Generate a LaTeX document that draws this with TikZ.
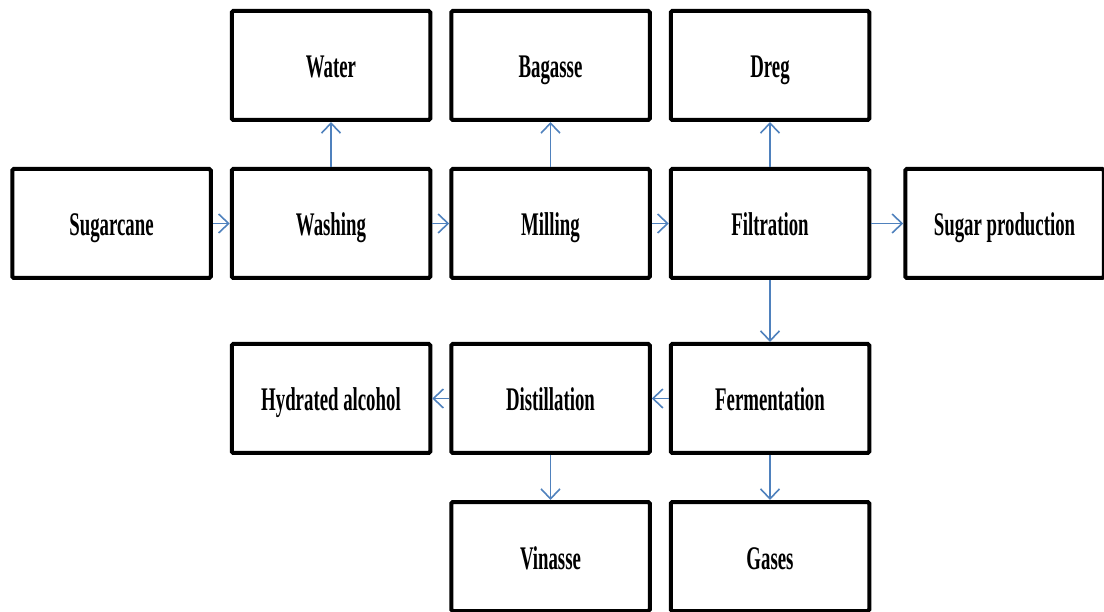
\documentclass[tikz,border=0pt]{standalone}
\usepackage{fontspec}
\newfontfamily\stagefont{Liberation Serif}[FakeStretch=0.57]
\usetikzlibrary{arrows.meta,positioning}
\definecolor{flowblue}{RGB}{79,129,189}

\tikzset{
    stage/.style={draw=black, line width=4pt, rounded corners=1.5pt,
        minimum width=198.5pt, minimum height=109pt, inner sep=0pt,
        text height=25pt, text depth=0pt,
        font=\stagefont\bfseries\fontsize{33}{33}\selectfont},
    flow/.style={draw=flowblue, line width=1.6pt},
    >={Straight Barb[length=10pt,width=19pt]}
}

\begin{document}
\begin{tikzpicture}[x=1pt, y=1pt]
    \useasboundingbox (0,0) rectangle (1104,-612);
    % main line
    \node(sugarcane) [stage] at (111.5,-223.5)            {Sugarcane};
    \node(washing)   [stage, right=17pt of sugarcane]     {Washing};
    \node(milling)   [stage, right=17pt of washing]       {Milling};
    \node(filtration)[stage, right=17pt of milling]       {Filtration};
    \node(sugar)     [stage, right=32pt of filtration]    {Sugar production};

    % by-products above
    \node(water)     [stage, above=45pt of washing]       {Water};
    \node(bagasse)   [stage, above=45pt of milling]       {Bagasse};
    \node(dreg)      [stage, above=45pt of filtration]    {Dreg};

    % alcohol line
    \node(fermentation) [stage, below=62pt of filtration]   {Fermentation};
    \node(distillation) [stage, left=17pt of fermentation]  {Distillation};
    \node(hydrated)     [stage, left=17pt of distillation]  {Hydrated alcohol};
    \node(vinasse)      [stage, below=45pt of distillation] {Vinasse};
    \node(gases)        [stage, below=45pt of fermentation] {Gases};

    % main line
    \draw [->][flow] (sugarcane) to (washing);
    \draw [->][flow] (washing) to (milling);
    \draw [->][flow] (milling) to (filtration);
    \draw [->][flow] (filtration) to (sugar);

    % by-products above
    \draw [->][flow] (washing) to (water);
    \draw [->][flow] (milling) to (bagasse);
    \draw [->][flow] (filtration) to (dreg);

    % alcohol line
    \draw [->][flow] (filtration) to (fermentation);
    \draw [->][flow] (fermentation) to (distillation);
    \draw [->][flow] (distillation) to (hydrated);
    \draw [->][flow] (distillation) to (vinasse);
    \draw [->][flow] (fermentation) to (gases);
\end{tikzpicture}
\end{document}
